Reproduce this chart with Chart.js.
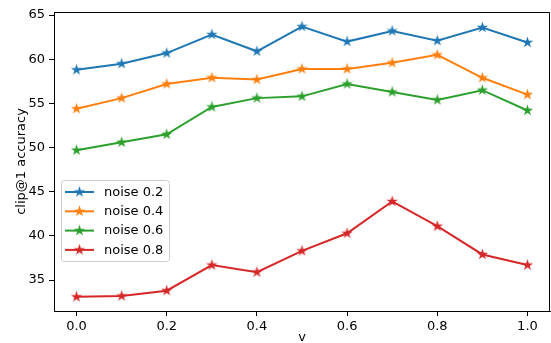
<!DOCTYPE html>
<html>
<head>
<meta charset="utf-8">
<script src="https://cdn.jsdelivr.net/npm/chart.js@4"></script>
<style>
  html, body { margin: 0; padding: 0; background: #fff; overflow: hidden; }
  canvas { display: block; }
</style>
</head>
<body>
<canvas id="chart" width="551" height="343"></canvas>
<script>
'use strict';

// data
var vValues = [0.0, 0.1, 0.2, 0.3, 0.4, 0.5, 0.6, 0.7, 0.8, 0.9, 1.0];
var noise02 = [58.8, 59.5, 60.7, 62.8, 60.9, 63.7, 62.0, 63.2, 62.1, 63.6, 61.9];
var noise04 = [54.4, 55.6, 57.2, 57.9, 57.7, 58.9, 58.9, 59.6, 60.5, 57.9, 56.0];
var noise06 = [49.7, 50.6, 51.5, 54.6, 55.6, 55.8, 57.2, 56.3, 55.4, 56.5, 54.2];
var noise08 = [33.1, 33.2, 33.8, 36.7, 35.9, 38.3, 40.3, 43.9, 41.1, 37.9, 36.7];
var seriesNames = ['noise 0.2', 'noise 0.4', 'noise 0.6', 'noise 0.8'];
var xTicks = [0.0, 0.2, 0.4, 0.6, 0.8, 1.0];
var yTicks = [35, 40, 45, 50, 55, 60, 65];

var colors = ['#1f77b4', '#ff7f0e', '#2ca02c', '#d62728'];
var FONT = '"DejaVu Sans", sans-serif';

function starImage(color) {
    var c = document.createElement('canvas');
    c.width = 13; c.height = 13;
    var g = c.getContext('2d');
    var R = 6, r = R * 0.382;
    g.beginPath();
    for (var i = 0; i < 10; i++) {
        var rad = i % 2 === 0 ? R : r;
        var a = -Math.PI / 2 + i * Math.PI / 5;
        var px = 6.5 + rad * Math.cos(a), py = 6.5 + rad * Math.sin(a);
        if (i === 0) g.moveTo(px, py); else g.lineTo(px, py);
    }
    g.closePath();
    g.fillStyle = color;
    g.fill();
    return c;
}

function toPoints(vals) {
    return vals.map(function(y, i) { return { x: vValues[i], y: y }; });
}

var allSeries = [noise02, noise04, noise06, noise08];
var stars = colors.map(starImage);

var datasets = allSeries.map(function(vals, i) {
    return {
        label: seriesNames[i],
        data: toPoints(vals),
        borderColor: colors[i],
        backgroundColor: colors[i],
        borderWidth: 2,
        pointStyle: stars[i],
        pointRadius: 6,
        pointHoverRadius: 6,
        tension: 0
    };
});

var decorations = {
    id: 'decorations',
    afterDraw: function(chart) {
        var ctx = chart.ctx;
        var a = chart.chartArea;
        ctx.save();
        // frame top/right
        ctx.strokeStyle = '#000';
        ctx.lineWidth = 1;
        ctx.beginPath();
        ctx.moveTo(a.left, a.top + 0.5);
        ctx.lineTo(a.right - 0.5, a.top + 0.5);
        ctx.lineTo(a.right - 0.5, a.bottom);
        ctx.stroke();

        // axis titles
        ctx.fillStyle = '#000';
        ctx.font = '13px ' + FONT;
        ctx.textAlign = 'center';
        ctx.textBaseline = 'middle';
        ctx.fillText('v', (a.left + a.right) / 2, 338);
        ctx.translate(22, (a.top + a.bottom) / 2);
        ctx.rotate(-Math.PI / 2);
        ctx.fillText('clip@1 accuracy', 0, 0);
        ctx.restore();

        // legend
        ctx.save();
        var bx = 61.5, by = 180.5, bw = 108, bh = 81;
        ctx.beginPath();
        ctx.roundRect(bx, by, bw, bh, 3);
        ctx.fillStyle = 'rgba(255,255,255,0.8)';
        ctx.fill();
        ctx.strokeStyle = '#cccccc';
        ctx.lineWidth = 1;
        ctx.stroke();
        ctx.font = '13px ' + FONT;
        ctx.textAlign = 'left';
        ctx.textBaseline = 'middle';
        chart.data.datasets.forEach(function(ds, i) {
            var yy = 192 + i * 19.3;
            ctx.strokeStyle = ds.borderColor;
            ctx.lineWidth = 2;
            ctx.beginPath();
            ctx.moveTo(65, yy);
            ctx.lineTo(94, yy);
            ctx.stroke();
            ctx.drawImage(ds.pointStyle, 79.5 - 6.5, yy - 6.5);
            ctx.fillStyle = '#000';
            ctx.fillText(ds.label, 104, yy + 0.5);
        });
        ctx.restore();
    }
};

new Chart(document.getElementById('chart'), {
    type: 'line',
    data: { datasets: datasets },
    plugins: [decorations],
    options: {
        responsive: false,
        animation: false,
        layout: { autoPadding: false, padding: { left: 0, top: 12, right: 1, bottom: 0 } },
        plugins: {
            legend: { display: false },
            tooltip: { enabled: false }
        },
        scales: {
            x: {
                type: 'linear',
                min: -0.05,
                max: 1.05,
                afterFit: function(s) {
                    s.height = 32;
                    s.paddingLeft = 0;
                    s.paddingRight = 0;
                },
                afterBuildTicks: function(s) {
                    s.ticks = xTicks.map(function(v) { return { value: v }; });
                },
                grid: { drawOnChartArea: false, drawTicks: true, tickLength: 5, tickColor: '#000' },
                border: { display: true, color: '#000', width: 1 },
                ticks: {
                    color: '#000',
                    font: { family: FONT, size: 13 },
                    padding: 3,
                    maxRotation: 0,
                    callback: function(v) { return Number(v).toFixed(1); }
                }
            },
            y: {
                type: 'linear',
                min: 31.5,
                max: 65.35,
                afterFit: function(s) {
                    s.width = 54;
                    s.paddingTop = 0;
                    s.paddingBottom = 0;
                },
                afterBuildTicks: function(s) {
                    s.ticks = yTicks.map(function(v) { return { value: v }; });
                },
                grid: { drawOnChartArea: false, drawTicks: true, tickLength: 5, tickColor: '#000' },
                border: { display: true, color: '#000', width: 1 },
                ticks: {
                    color: '#000',
                    font: { family: FONT, size: 13 },
                    padding: 4,
                    callback: function(v) { return String(v); }
                }
            }
        }
    }
});
</script>
</body>
</html>
